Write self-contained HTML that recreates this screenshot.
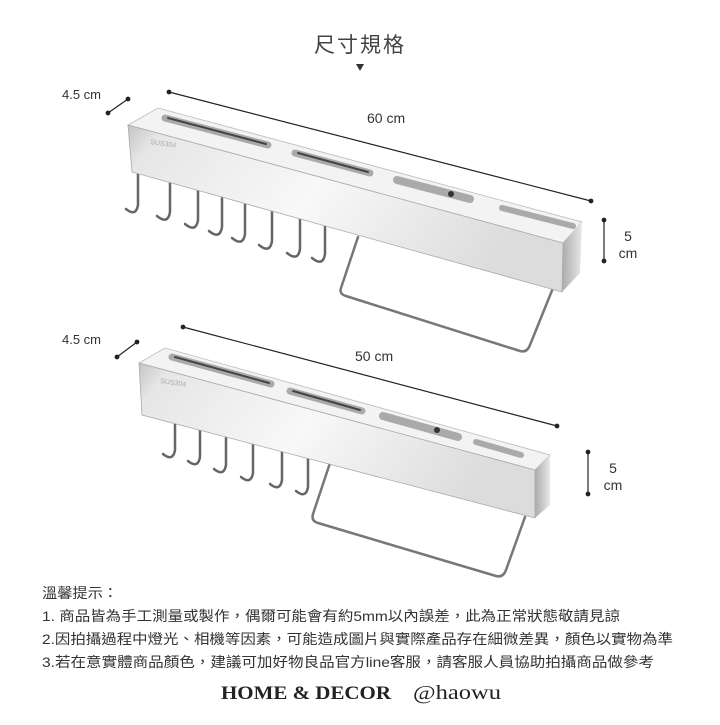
<!DOCTYPE html>
<html><head><meta charset="utf-8"><style>
body{margin:0;background:#fff;width:720px;height:720px;overflow:hidden;font-family:"Liberation Sans","Noto Sans CJK TC",sans-serif;}
</style></head><body>
<svg width="720" height="720" viewBox="0 0 720 720" xmlns="http://www.w3.org/2000/svg">
<defs>
<linearGradient id="fr" x1="0" y1="0" x2="1" y2="0.3">
<stop offset="0" stop-color="#c4c4c4"/><stop offset="0.08" stop-color="#e6e6e6"/><stop offset="0.5" stop-color="#f8f8f8"/><stop offset="1" stop-color="#dcdcdc"/></linearGradient>
<linearGradient id="cap" x1="0" y1="0" x2="1" y2="0"><stop offset="0" stop-color="#aaa"/><stop offset="1" stop-color="#e8e8e8"/></linearGradient>
</defs>
<g font-family="Liberation Sans, Noto Sans CJK TC, sans-serif" fill="#333">
<text x="360" y="52" font-size="21" text-anchor="middle" fill="#444" letter-spacing="2">尺寸規格</text>
<polygon points="356,64 364,64 360,71" fill="#333"/>
<text x="62" y="99" font-size="13">4.5 cm</text>
<text x="367" y="123" font-size="14">60 cm</text>
<text x="628" y="241" font-size="14" text-anchor="middle">5</text>
<text x="628" y="258" font-size="14" text-anchor="middle">cm</text>
<text x="62" y="344" font-size="13">4.5 cm</text>
<text x="355" y="361" font-size="14">50 cm</text>
<text x="613" y="473" font-size="14" text-anchor="middle">5</text>
<text x="613" y="490" font-size="14" text-anchor="middle">cm</text>
</g>
<g stroke="#222" stroke-width="1.2" fill="#222">
<line x1="169" y1="92" x2="591" y2="201"/><circle cx="169" cy="92" r="1.8"/><circle cx="591" cy="201" r="1.8"/>
<line x1="108" y1="113" x2="128" y2="99"/><circle cx="108" cy="113" r="1.8"/><circle cx="128" cy="99" r="1.8"/>
<line x1="604" y1="220" x2="604" y2="261"/><circle cx="604" cy="220" r="1.8"/><circle cx="604" cy="261" r="1.8"/>
<line x1="183" y1="327" x2="557" y2="426"/><circle cx="183" cy="327" r="1.8"/><circle cx="557" cy="426" r="1.8"/>
<line x1="117" y1="357" x2="137" y2="342"/><circle cx="117" cy="357" r="1.8"/><circle cx="137" cy="342" r="1.8"/>
<line x1="588" y1="452" x2="588" y2="494"/><circle cx="588" cy="452" r="1.8"/><circle cx="588" cy="494" r="1.8"/>
</g>
<!-- top rack -->
<g fill="none" stroke="#666" stroke-width="2.5" stroke-linecap="round">
<path d="M358,237 L341,288 Q339,294 346,296 L520,351 Q527,353 530,345 L553,288" stroke="#777"/>
<path d="M138,172 L138,205 Q136,217 126,209"/>
<path d="M170,178 L170,212 Q168,225 157,216"/>
<path d="M198,182 L198,220 Q196,233 185,224"/>
<path d="M222,186 L222,227 Q220,240 209,231"/>
<path d="M245,190 L245,234 Q243,247 232,238"/>
<path d="M272,195 L272,241 Q270,254 259,245"/>
<path d="M300,200 L300,249 Q298,262 287,253"/>
<path d="M325,204 L325,254 Q323,267 312,258"/>
</g>
<polygon points="128,125 158,108 582,222 563,243" fill="#f3f3f3" stroke="#bbb" stroke-width="0.8"/>
<polygon points="128,125 563,243 562,292 132,172" fill="url(#fr)" stroke="#aaa" stroke-width="0.8"/>
<polygon points="563,243 582,222 580,273 562,292" fill="url(#cap)"/>
<g stroke-linecap="round" fill="none">
<line x1="165" y1="118" x2="268" y2="145" stroke="#aaa" stroke-width="7"/><line x1="168" y1="118" x2="266" y2="144" stroke="#444" stroke-width="2"/>
<line x1="295" y1="153" x2="370" y2="173" stroke="#aaa" stroke-width="7"/><line x1="298" y1="153" x2="368" y2="172" stroke="#444" stroke-width="2"/>
<line x1="397" y1="180" x2="470" y2="199" stroke="#aaa" stroke-width="8"/><circle cx="451" cy="194" r="3" fill="#333"/>
<line x1="502" y1="208" x2="573" y2="226" stroke="#aaa" stroke-width="6"/>
</g>
<text x="150" y="144" font-size="7" fill="#aaa" font-family="Liberation Sans" transform="rotate(8 150 144)">SUS304</text>
<!-- bottom rack -->
<g fill="none" stroke="#666" stroke-width="2.5" stroke-linecap="round">
<path d="M330,463 L313,514 Q311,521 318,523 L496,576 Q503,578 506,570 L525,517" stroke="#777"/>
<path d="M175,417 L175,450 Q173,462 163,454"/>
<path d="M200,422 L200,457 Q198,469 188,461"/>
<path d="M226,428 L226,465 Q224,477 214,469"/>
<path d="M253,434 L253,473 Q251,485 241,477"/>
<path d="M282,440 L282,480 Q280,492 270,484"/>
<path d="M308,446 L308,487 Q306,499 296,491"/>
</g>
<polygon points="139,363 165,348 550,455 535,470" fill="#f3f3f3" stroke="#bbb" stroke-width="0.8"/>
<polygon points="139,363 535,470 535,518 142,415" fill="url(#fr)" stroke="#aaa" stroke-width="0.8"/>
<polygon points="535,470 550,455 550,505 535,518" fill="url(#cap)"/>
<g stroke-linecap="round" fill="none">
<line x1="172" y1="357" x2="271" y2="384" stroke="#aaa" stroke-width="7"/><line x1="175" y1="357" x2="269" y2="383" stroke="#444" stroke-width="2"/>
<line x1="290" y1="391" x2="362" y2="411" stroke="#aaa" stroke-width="7"/><line x1="293" y1="391" x2="360" y2="410" stroke="#444" stroke-width="2"/>
<line x1="383" y1="416" x2="458" y2="437" stroke="#aaa" stroke-width="8"/><circle cx="437" cy="430" r="3" fill="#333"/>
<line x1="476" y1="442" x2="521" y2="455" stroke="#aaa" stroke-width="6"/>
</g>
<text x="160" y="383" font-size="7" fill="#aaa" font-family="Liberation Sans" transform="rotate(8 160 383)">SUS304</text>
<g font-family="Liberation Sans, Noto Sans CJK TC, sans-serif" font-size="14" fill="#333">
<text x="42" y="598" textLength="76" lengthAdjust="spacingAndGlyphs">溫馨提示：</text>
<text x="42" y="621" textLength="578" lengthAdjust="spacingAndGlyphs">1. 商品皆為手工測量或製作，偶爾可能會有約5mm以內誤差，此為正常狀態敬請見諒</text>
<text x="42" y="644" textLength="631" lengthAdjust="spacingAndGlyphs">2.因拍攝過程中燈光、相機等因素，可能造成圖片與實際產品存在細微差異，顏色以實物為準</text>
<text x="42" y="667" textLength="612" lengthAdjust="spacingAndGlyphs">3.若在意實體商品顏色，建議可加好物良品官方line客服，請客服人員協助拍攝商品做參考</text>
</g>
<text x="221" y="699" font-size="19" font-weight="bold" font-family="Liberation Serif, serif" fill="#222" textLength="170" lengthAdjust="spacingAndGlyphs">HOME &amp; DECOR</text>
<text x="413" y="699" font-size="20" font-family="Liberation Serif, serif" fill="#222" textLength="88" lengthAdjust="spacingAndGlyphs">@haowu</text>
</svg>
</body></html>
